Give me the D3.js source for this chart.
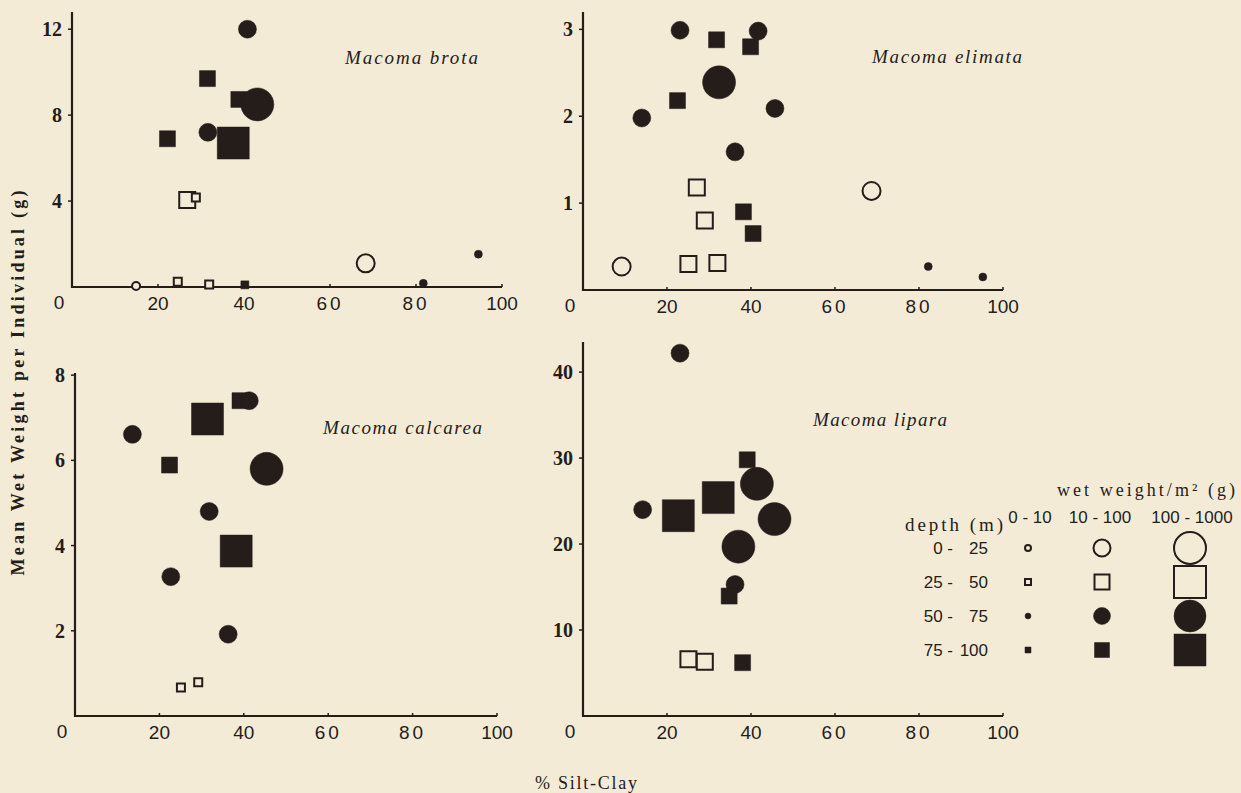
<!DOCTYPE html>
<html><head><meta charset="utf-8">
<script src="https://cdn.jsdelivr.net/npm/d3@7"></script>
<style>body{margin:0;background:#f4ebd6;} svg{display:block}</style>
</head><body><svg id="c" width="1241" height="793"></svg>
<script>
// depth classes: 0 = 0-25 (open circle), 1 = 25-50 (open square), 2 = 50-75 (filled circle), 3 = 75-100 (filled square)
// weight classes: 0 = 0-10, 1 = 10-100, 2 = 100-1000 g/m2
const depthLabelsA = ["0 -", "25 -", "50 -", "75 -"];
const depthLabelsB = ["25", "50", "75", "100"];
const weightLabels = ["0 - 10", "10 - 100", "100 - 1000"];
const xTicks = [20, 40, 60, 80, 100];
const xTickLabels = ["20", "40", "60", "80", "100"];

// [silt-clay %, mean wet weight (g), depth class, weight class]
const brota = [
  [94.5, 1.53, 2, 0], [81.7, 0.17, 2, 0], [14.9, 0.05, 0, 0], [24.6, 0.25, 1, 0],
  [31.9, 0.12, 1, 0], [40.2, 0.10, 3, 0], [68.3, 1.10, 0, 1],
  [26.8, 4.05, 1, 1], [28.8, 4.17, 1, 0],
  [40.8, 12.0, 2, 1], [31.5, 9.7, 3, 1], [38.8, 8.73, 3, 1], [43.1, 8.5, 2, 2],
  [31.6, 7.2, 2, 1], [37.5, 6.7, 3, 2], [22.2, 6.9, 3, 1]
];
const brotaTicks = [4, 8, 12];

const elimata = [
  [23.1, 2.99, 2, 1], [31.8, 2.88, 3, 1], [41.7, 2.98, 2, 1], [39.9, 2.80, 3, 1],
  [32.4, 2.39, 2, 2], [22.5, 2.18, 3, 1], [14.0, 1.98, 2, 1], [45.7, 2.09, 2, 1],
  [36.2, 1.59, 2, 1], [27.1, 1.18, 1, 1], [68.7, 1.14, 0, 1], [38.2, 0.90, 3, 1],
  [29.0, 0.80, 1, 1], [40.5, 0.65, 3, 1], [9.2, 0.27, 0, 1], [25.1, 0.30, 1, 1],
  [32.0, 0.31, 1, 1], [82.2, 0.27, 2, 0], [95.2, 0.15, 2, 0]
];
const elimataTicks = [1, 2, 3];

const calcarea = [
  [13.6, 6.61, 2, 1], [31.4, 6.97, 3, 2], [39.1, 7.40, 3, 1], [41.3, 7.40, 2, 1],
  [22.4, 5.89, 3, 1], [45.4, 5.80, 2, 2], [31.8, 4.80, 2, 1], [38.2, 3.87, 3, 2],
  [22.7, 3.27, 2, 1], [36.3, 1.92, 2, 1], [25.1, 0.67, 1, 0], [29.2, 0.79, 1, 0]
];
const calcareaTicks = [2, 4, 6, 8];

const lipara = [
  [23.1, 42.2, 2, 1], [39.1, 29.8, 3, 1], [41.4, 27.0, 2, 2], [32.2, 25.4, 3, 2],
  [14.2, 24.0, 2, 1], [22.7, 23.3, 3, 2], [45.6, 22.9, 2, 2], [37.0, 19.7, 2, 2],
  [36.2, 15.3, 2, 1], [34.8, 13.95, 3, 1], [25.1, 6.6, 1, 1], [29.0, 6.3, 1, 1],
  [38.0, 6.2, 3, 1]
];
const liparaTicks = [10, 20, 30, 40];

const INK = "#241d1a", BG = "#f4ebd6";
const serif = "Liberation Serif, DejaVu Serif, serif", sans = "Liberation Sans, Arial, sans-serif";
const svg = d3.select("#c");
svg.append("rect").attr("width", 1241).attr("height", 793).attr("fill", BG);

const circR = [4, 9, 16.5], sqS = [8, 16, 32];
function symPath(depth, w, legend) {
  const isCircle = depth === 0 || depth === 2;
  let r = circR[w], s = sqS[w];
  if (legend && w === 0) { r = 3; s = 6; }
  if (legend && w === 1) { r = 8.5; s = 15; }
  if (legend && w === 2) { r = 16; s = 32; }
  return isCircle ? d3.symbol(d3.symbolCircle, Math.PI * r * r)()
                  : d3.symbol(d3.symbolSquare, s * s)();
}
function drawSym(g, x, y, depth, w, legend) {
  const open = depth < 2;
  g.append("path").attr("d", symPath(depth, w, legend))
    .attr("transform", `translate(${x},${y})`)
    .attr("fill", open ? BG : INK)
    .attr("stroke", INK).attr("stroke-width", open ? 2 : 0.5);
}

const panels = [
  { name: "Macoma brota", data: brota, ticks: brotaTicks, yMax: 12.8, xr: [72, 502], yr: [287, 12], tx: 345, tw: 133, ty: 64 },
  { name: "Macoma elimata", data: elimata, ticks: elimataTicks, yMax: 3.2, xr: [583, 1003], yr: [290, 12], tx: 872, tw: 150, ty: 63 },
  { name: "Macoma calcarea", data: calcarea, ticks: calcareaTicks, yMax: 8.05, xr: [75, 497], yr: [716, 373], tx: 323, tw: 159, ty: 434 },
  { name: "Macoma lipara", data: lipara, ticks: liparaTicks, yMax: 43.5, xr: [583, 1003], yr: [716, 342], tx: 813, tw: 134, ty: 426 }
];

panels.forEach(p => {
  const x = d3.scaleLinear().domain([0, 100]).range(p.xr);
  const y = d3.scaleLinear().domain([0, p.yMax]).range(p.yr);
  const g = svg.append("g");
  g.append("line").attr("x1", x(0)).attr("x2", x(100)).attr("y1", y(0)).attr("y2", y(0))
    .attr("stroke", INK).attr("stroke-width", 2.2);
  g.append("line").attr("x1", x(0)).attr("x2", x(0)).attr("y1", y(0) + 1).attr("y2", y(p.yMax))
    .attr("stroke", INK).attr("stroke-width", 2.2);
  p.ticks.forEach(t => {
    g.append("line").attr("x1", x(0) - 4).attr("x2", x(0)).attr("y1", y(t)).attr("y2", y(t))
      .attr("stroke", INK).attr("stroke-width", 1.5);
    g.append("text").attr("x", x(0) - 10).attr("y", y(t)).attr("dy", "0.35em")
      .attr("text-anchor", "end").attr("font-family", serif).attr("font-weight", "bold")
      .attr("font-size", 20).attr("fill", INK).text(t);
  });
  xTicks.forEach((t, i) => {
    g.append("line").attr("x1", x(t)).attr("x2", x(t)).attr("y1", y(0)).attr("y2", y(0) - 3)
      .attr("stroke", INK).attr("stroke-width", 1.5);
    g.append("text").attr("x", x(t)).attr("y", y(0) + 16).attr("dy", "0.35em")
      .attr("text-anchor", "middle").attr("font-family", sans)
      .attr("font-size", 19).attr("letter-spacing", (t === 60 || t === 80) ? 3 : 0)
      .attr("fill", INK).text(xTickLabels[i]);
  });
  g.append("text").attr("x", x(0) - 13).attr("y", y(0) + 15).attr("dy", "0.35em")
    .attr("text-anchor", "middle").attr("font-family", sans)
    .attr("font-size", 19).attr("fill", INK).text("0");
  g.append("text").attr("x", p.tx).attr("y", p.ty).attr("textLength", p.tw).attr("lengthAdjust", "spacing")
    .attr("font-family", serif).attr("font-style", "italic")
    .attr("font-size", 19).attr("fill", INK).text(p.name);
  p.data.forEach(d => drawSym(g, x(d[0]), y(d[1]), d[2], d[3], false));
});

svg.append("text").attr("transform", "translate(24,383) rotate(-90)")
  .attr("text-anchor", "middle").attr("textLength", 385).attr("lengthAdjust", "spacing")
  .attr("font-family", serif).attr("font-weight", "bold")
  .attr("font-size", 18).attr("fill", INK).text("Mean Wet Weight per Individual (g)");
svg.append("text").attr("x", 535).attr("y", 789).attr("textLength", 102).attr("lengthAdjust", "spacing")
  .attr("font-family", serif)
  .attr("font-size", 18).attr("fill", INK).text("% Silt-Clay");

const lg = svg.append("g");
lg.append("text").attr("x", 1057).attr("y", 496).attr("textLength", 178).attr("lengthAdjust", "spacing")
  .attr("font-family", serif).attr("font-size", 18).attr("fill", INK).text("wet weight/m² (g)");
lg.append("text").attr("x", 905).attr("y", 531).attr("textLength", 98).attr("lengthAdjust", "spacing")
  .attr("font-family", serif).attr("font-size", 19).attr("fill", INK).text("depth (m)");
const colX = [1028, 1102, 1190];
const colLabX = [1030, 1100, 1192];
weightLabels.forEach((w, i) => {
  lg.append("text").attr("x", colLabX[i]).attr("y", 523).attr("text-anchor", "middle")
    .attr("font-family", sans).attr("font-size", 17).attr("fill", INK).text(w);
});
const rowY = [548, 582, 616, 650];
depthLabelsA.forEach((a, i) => {
  lg.append("text").attr("x", 953).attr("y", rowY[i]).attr("dy", "0.36em").attr("text-anchor", "end")
    .attr("font-family", sans).attr("font-size", 17).attr("fill", INK).text(a);
  lg.append("text").attr("x", 988).attr("y", rowY[i]).attr("dy", "0.36em").attr("text-anchor", "end")
    .attr("font-family", sans).attr("font-size", 17).attr("fill", INK).text(depthLabelsB[i]);
  [0, 1, 2].forEach(w => drawSym(lg, colX[w], rowY[i], i, w, true));
});
</script></body></html>
